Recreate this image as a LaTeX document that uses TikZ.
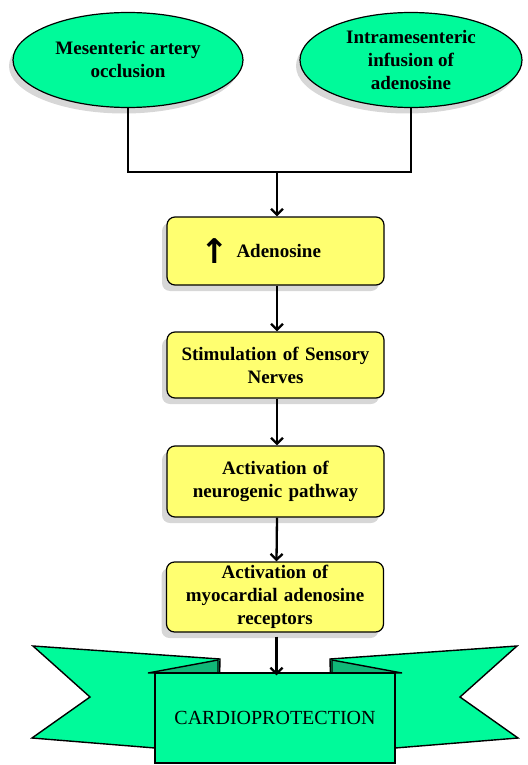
\documentclass[tikz,border=0pt]{standalone}
\usepackage{fontspec}
\setmainfont{Liberation Serif}
\newfontfamily\arrowfont{DejaVu Sans}
\usetikzlibrary{positioning, shapes.geometric, arrows.meta, shadows}
\definecolor{springgreen}{RGB}{0,250,154}
\definecolor{folddark}{RGB}{16,184,120}
\definecolor{boxyellow}{RGB}{255,255,112}

\begin{document}
\begin{tikzpicture}[x=1pt, y=-1pt,
		cause/.style={ellipse, draw, line width=1.2pt, fill=springgreen, minimum height=95pt, align=center, inner sep=0pt, font=\fontsize{19}{23}\selectfont\bfseries, drop shadow={shadow xshift=-4pt, shadow yshift=-6pt, fill=black!45, opacity=.35}},
		stepbox/.style={rectangle, rounded corners=8pt, draw, line width=1.2pt, fill=boxyellow, minimum width=217pt, text width=210pt, align=center, inner sep=2pt, font=\fontsize{19}{23}\selectfont\bfseries, drop shadow={shadow xshift=-5pt, shadow yshift=-6pt, fill=black!45, opacity=.35}},
		flow/.style={line width=2.3pt, -{Straight Barb[length=6pt, width=12pt]}},
		wing/.style={draw, line width=1.4pt, line join=miter, fill=springgreen}]
		\useasboundingbox (0,0) rectangle (527,765);
		% the two causes
		\node[cause, minimum width=230pt] (occl) at (128,60) {Mesenteric artery\\occlusion};
		\node[cause, minimum width=222pt] (infus) at (411,60) {Intramesenteric\\infusion of\\adenosine};
		\coordinate (join) at (277,172);
		\draw[line width=2.3pt] (occl.south) |- (join) -| (infus.south);
		% chain of steps
		\node[stepbox, minimum height=68pt] (aden) at (275.5,251) {\raisebox{-6pt}[12pt][0pt]{\arrowfont\bfseries\fontsize{34}{34}\selectfont ↑}\hspace{8pt}Adenosine\hspace{30pt}\mbox{}};
		\node[stepbox, minimum height=66pt] (nerve) at (275.5,365) {Stimulation of Sensory\\Nerves};
		\node[stepbox, minimum height=71pt] (path) at (275.5,481.5) {Activation of\\neurogenic pathway};
		\node[stepbox, minimum height=70pt] (recep) at (275,597) {Activation of\\myocardial adenosine\\receptors};
		% ribbon
		\draw[wing] (33,646) -- (220,659) -- (218,740) -- (155,748) -- (32,738) -- (90,697) -- cycle;
		\draw[wing, fill=folddark] (148,673) -- (218,660) -- (218,673) -- cycle;
		\draw[wing] (517,646) -- (330,659) -- (332,740) -- (395,748) -- (518,738) -- (460,697) -- cycle;
		\draw[wing, fill=folddark] (402,673) -- (332,660) -- (332,673) -- cycle;
		\node[draw, line width=1.4pt, fill=springgreen, minimum width=240pt, minimum height=90pt, font=\fontsize{20}{22}\selectfont] (cardio) at (275,718) {CARDIOPROTECTION};
		% arrows
		\draw[flow] (join) -- ([xshift=1.5pt]aden.north);
		\draw[flow] ([xshift=1.5pt]aden.south) -- ([xshift=1.5pt]nerve.north);
		\draw[flow] ([xshift=1.5pt]nerve.south) -- ([xshift=1.5pt]path.north);
		\draw[flow] ([xshift=1.5pt]path.south) -- ([xshift=1.5pt]recep.north);
		\draw[flow] ([xshift=1.5pt, yshift=-4pt]recep.south) -- ([xshift=1.5pt, yshift=-3pt]cardio.north);
	\end{tikzpicture}
\end{document}
